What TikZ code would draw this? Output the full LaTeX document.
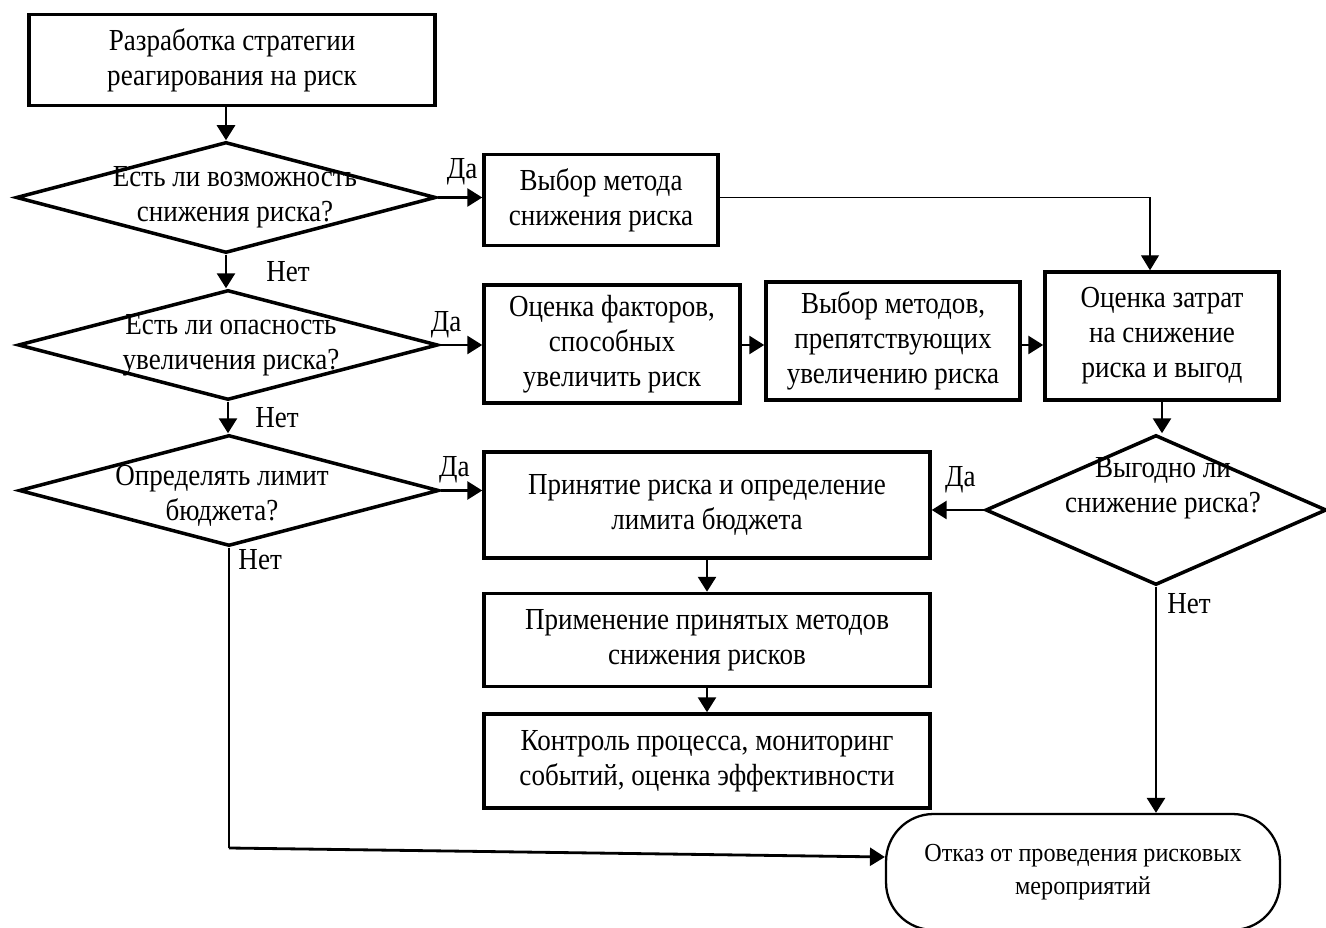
\documentclass[tikz,border=0pt]{standalone}
\usepackage{fontspec}
\setmainfont[FakeStretch=0.885]{Liberation Serif}
\newfontfamily\stopfont[FakeStretch=0.93]{Liberation Serif}
\usetikzlibrary{shapes.geometric, arrows.meta}

\begin{document}
\begin{tikzpicture}[x=0.02cm, y=-0.02cm,
		every node/.style={font=\fontsize{17.4}{19.9}\selectfont},
		box/.style={draw, line width=2pt, align=center, inner sep=0pt},
		ask/.style={draw, diamond, line width=2pt, inner sep=0pt, minimum width=8.4cm, minimum height=2.22cm},
		arr/.style={line width=1.6pt, -{Triangle[length=0.3cm, width=0.36cm]}},
		thinarr/.style={line width=0.7pt, -{Triangle[length=0.3cm, width=0.36cm]}}]
		\useasboundingbox (0, 0) rectangle (1326, 928);

		% boxes
		\node [box, minimum width=8.12cm, minimum height=1.82cm] (start) at (232, 60) {Разработка стратегии\\реагирования на риск};
		\node [box, minimum width=4.68cm, minimum height=1.82cm] (metod) at (601, 200) {Выбор метода\\снижения риска};
		\node [box, minimum width=5.12cm, minimum height=2.36cm] (faktor) at (612, 344) {Оценка факторов,\\способных\\увеличить риск};
		\node [box, minimum width=5.08cm, minimum height=2.36cm] (prepyat) at (893, 341) {Выбор методов,\\препятствующих\\увеличению риска};
		\node [box, minimum width=4.68cm, minimum height=2.56cm] (zatrat) at (1162, 336) {Оценка затрат\\на снижение\\риска и выгод};
		\node [box, minimum width=8.92cm, minimum height=2.12cm] (prinyat) at (707, 505) {Принятие риска и определение\\лимита бюджета};
		\node [box, minimum width=8.92cm, minimum height=1.86cm] (primen) at (707, 640) {Применение принятых методов\\снижения рисков};
		\node [box, minimum width=8.92cm, minimum height=1.88cm] (kontrol) at (707, 761) {Контроль процесса, мониторинг\\событий, оценка эффективности};
		\node [draw, line width=1.3pt, rounded corners=0.95cm, minimum width=7.88cm, minimum height=2.32cm, align=center,
			font=\stopfont\fontsize{14.8}{18.8}\selectfont] (stop) at (1083, 872) {Отказ от проведения рисковых\\мероприятий};

		% questions
		\node [ask, label={[align=center, xshift=0.18cm]center:{Есть ли возможность\\снижения риска?}}] (q1) at (226, 197.5) {};
		\node [ask, minimum height=2.2cm, label={[align=center, xshift=0.06cm]center:{Есть ли опасность\\увеличения риска?}}] (q2) at (228, 345) {};
		\node [ask, label={[align=center, xshift=-0.14cm, yshift=-0.1cm]center:{Определять лимит\\бюджета?}}] (q3) at (229, 490.5) {};
		\node [ask, minimum width=6.82cm, minimum height=3cm, label={[align=center, xshift=0.14cm, yshift=0.44cm]center:{Выгодно ли\\снижение риска?}}] (q4) at (1156, 510) {};

		% connectors
		\draw [arr] (q1.north |- start.south) -- (q1.north);
		\draw [arr] (q1.east) -- node[pos=0.55, above=0.1cm] {Да} (q1.east -| metod.west);
		\draw [thinarr] (q1.east -| metod.east) -| ([xshift=-0.24cm]zatrat.north);
		\draw [arr] (q1.south) -- node[pos=0.5, right=0.66cm] {Нет} (q1.south |- q2.north);
		\draw [arr] (q2.east) -- node[pos=0.15, above] {Да} (q2.east -| faktor.west);
		\draw [arr] (faktor.east |- q2.east) -- (q2.east -| prepyat.west);
		\draw [arr] (prepyat.east |- q2.east) -- (q2.east -| zatrat.west);
		\draw [arr] (zatrat.south) -- (zatrat.south |- q4.north);
		\draw [arr] (q2.south) -- node[pos=0.5, right=0.4cm] {Нет} (q2.south |- q3.north);
		\draw [arr] (q3.east) -- node[pos=0.33, above] {Да} (q3.east -| prinyat.west);
		\draw [arr] (q4.west) -- node[pos=0.45, above=0.2cm] {Да} (q4.west -| prinyat.east);
		\draw [arr] (prinyat) -- (primen);
		\draw [arr] (primen) -- (kontrol);
		\draw [arr] (q4.south) -- node[pos=0.074, right=0.08cm] {Нет} (q4.south |- stop.north);

		\coordinate (turn) at (229, 848);
		\draw [line width=0.7pt] (q3.south) -- node[pos=0.04, right=0.06cm] {Нет} (turn);
		\draw [arr] (turn) -- ([yshift=0.3cm]stop.west);
	\end{tikzpicture}
\end{document}
